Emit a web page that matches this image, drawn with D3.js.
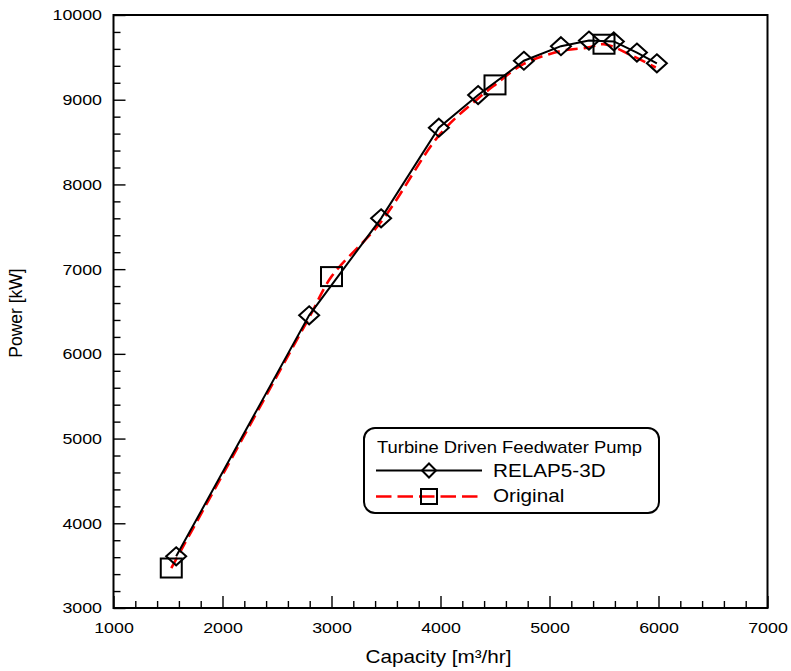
<!DOCTYPE html>
<html>
<head>
<meta charset="utf-8">
<script src="https://cdn.jsdelivr.net/npm/d3@7"></script>
<style>
  html, body { margin: 0; padding: 0; background: #fff; }
  svg text { font-family: "Liberation Sans", Arial, Helvetica, sans-serif; fill: #000; }
  /* wide lettering, as in the original plotting package */
  .wide-c { transform-box: fill-box; transform-origin: center; transform: scaleX(1.15); }
  .wide-l { transform-box: fill-box; transform-origin: left center; transform: scaleX(1.15); }
  .wide-r { transform-box: fill-box; transform-origin: right center; transform: scaleX(1.15); }
</style>
</head>
<body>
<svg id="chart" width="791" height="671"></svg>
<script>
// RELAP5-3D pump curve (diamonds, solid black)
const relapCapacity = [1575, 2795, 3455, 3985, 4345, 4765, 5105, 5362, 5590, 5802, 5985];
const relapPower    = [3610, 6455, 7600, 8670, 9055, 9460, 9632, 9698, 9688, 9556, 9430];

// Original pump curve (red dashed); squares mark selected points
const origCapacity = [1530, 2000, 2500, 2800, 3000, 3450, 4000, 4350, 4500, 4760, 5110, 5350, 5500, 5750, 5975];
const origPower    = [3472, 4570, 5740, 6440, 6912, 7550, 8600, 9020, 9175, 9420, 9576, 9615, 9655, 9525, 9380];
const origMarkerIdx = [0, 4, 8, 12];

// Axes
const xMajorTicks = [1000, 2000, 3000, 4000, 5000, 6000, 7000];
const yMajorTicks = [3000, 4000, 5000, 6000, 7000, 8000, 9000, 10000];
const xMinorTicks = d3.range(1000, 7001, 200).filter(v => v % 1000 !== 0);
const yMinorTicks = d3.range(3000, 10001, 200).filter(v => v % 1000 !== 0);

const xTitle = "Capacity [m³/hr]";
const yTitle = "Power [kW]";
const legendTitle = "Turbine Driven Feedwater Pump";
const seriesNames = ["RELAP5-3D", "Original"];

const svg = d3.select("#chart");
const plot = { left: 113.5, right: 767.5, top: 15, bottom: 608 };

const x = d3.scaleLinear().domain([1000, 7000]).range([plot.left, plot.right]);
const y = d3.scaleLinear().domain([3000, 10000]).range([plot.bottom, plot.top]);

// minor ticks
svg.append("g")
  .attr("transform", `translate(0,${plot.bottom})`)
  .call(d3.axisBottom(x).tickValues(xMinorTicks).tickSize(-7).tickSizeOuter(0).tickFormat(""))
  .call(g => g.select(".domain").remove())
  .call(g => g.selectAll("line").attr("stroke-width", 1.4));
svg.append("g")
  .attr("transform", `translate(${plot.left},0)`)
  .call(d3.axisLeft(y).tickValues(yMinorTicks).tickSize(-7).tickSizeOuter(0).tickFormat(""))
  .call(g => g.select(".domain").remove())
  .call(g => g.selectAll("line").attr("stroke-width", 1.4));

// major ticks + labels
svg.append("g")
  .attr("transform", `translate(0,${plot.bottom})`)
  .call(d3.axisBottom(x).tickValues(xMajorTicks).tickSize(-12).tickSizeOuter(0).tickPadding(13.5).tickFormat(d3.format("d")))
  .call(g => g.select(".domain").remove())
  .call(g => g.selectAll("line").attr("stroke-width", 1.4))
  .call(g => g.selectAll("text").attr("font-size", 15.5).attr("class", "wide-c")
                 .style("font-family", '"Liberation Sans", Arial, sans-serif'));
svg.append("g")
  .attr("transform", `translate(${plot.left},0)`)
  .call(d3.axisLeft(y).tickValues(yMajorTicks).tickSize(-12).tickSizeOuter(0).tickPadding(11.5).tickFormat(d3.format("d")))
  .call(g => g.select(".domain").remove())
  .call(g => g.selectAll("line").attr("stroke-width", 1.4))
  .call(g => g.selectAll("text").attr("font-size", 15.5).attr("class", "wide-r")
                 .style("font-family", '"Liberation Sans", Arial, sans-serif'));

// frame
svg.append("rect")
  .attr("x", plot.left).attr("y", plot.top)
  .attr("width", plot.right - plot.left).attr("height", plot.bottom - plot.top)
  .attr("fill", "none").attr("stroke", "#000").attr("stroke-width", 2);

// axis titles
svg.append("text")
  .attr("class", "wide-c")
  .attr("x", (plot.left + plot.right) / 2 - 2).attr("y", 663)
  .attr("text-anchor", "middle").attr("font-size", 18)
  .text(xTitle);
svg.append("text")
  .attr("transform", "translate(22,313) rotate(-90)")
  .attr("text-anchor", "middle").attr("font-size", 17.5)
  .text(yTitle);

// curves
const origPts = origCapacity.map((c, i) => [c, origPower[i]]);
const relapPts = relapCapacity.map((c, i) => [c, relapPower[i]]);

svg.append("path")
  .datum(origPts)
  .attr("fill", "none").attr("stroke", "#ff0000").attr("stroke-width", 2.6)
  .attr("stroke-dasharray", "12,6")
  .attr("d", d3.line().x(d => x(d[0])).y(d => y(d[1])).curve(d3.curveCatmullRom.alpha(0.5)));

svg.append("path")
  .datum(relapPts)
  .attr("fill", "none").attr("stroke", "#000").attr("stroke-width", 2)
  .attr("d", d3.line().x(d => x(d[0])).y(d => y(d[1])));

// markers
function diamond(g, cx, cy, hw, hh) {
  g.append("path")
    .attr("d", `M${cx},${cy - hh}L${cx + hw},${cy}L${cx},${cy + hh}L${cx - hw},${cy}Z`)
    .attr("fill", "none").attr("stroke", "#000").attr("stroke-width", 2);
}
function square(g, cx, cy, hw, hh) {
  g.append("rect")
    .attr("x", cx - hw).attr("y", cy - hh).attr("width", 2 * hw).attr("height", 2 * hh)
    .attr("fill", "none").attr("stroke", "#000").attr("stroke-width", 2);
}

const marks = svg.append("g");
origMarkerIdx.forEach(i => square(marks, x(origPts[i][0]), y(origPts[i][1]), 10.5, 9.5));
relapPts.forEach(d => diamond(marks, x(d[0]), y(d[1]), 10, 9));

// legend
const lg = svg.append("g");
lg.append("rect")
  .attr("x", 364).attr("y", 428).attr("width", 295).attr("height", 85)
  .attr("rx", 11).attr("ry", 11)
  .attr("fill", "#fff").attr("stroke", "#000").attr("stroke-width", 2);
lg.append("text")
  .attr("class", "wide-l")
  .attr("x", 377).attr("y", 453).attr("font-size", 16)
  .text(legendTitle);
lg.append("line")
  .attr("x1", 376).attr("x2", 482).attr("y1", 470.5).attr("y2", 470.5)
  .attr("stroke", "#000").attr("stroke-width", 2);
diamond(lg, 429, 470.5, 7, 7);
lg.append("text")
  .attr("class", "wide-l")
  .attr("x", 493).attr("y", 477.5).attr("font-size", 18)
  .text(seriesNames[0]);
lg.append("line")
  .attr("x1", 376).attr("x2", 482).attr("y1", 496.5).attr("y2", 496.5)
  .attr("stroke", "#ff0000").attr("stroke-width", 2.6).attr("stroke-dasharray", "15.5,6");
square(lg, 429, 496.5, 8, 7.5);
lg.append("text")
  .attr("class", "wide-l")
  .attr("x", 493).attr("y", 502).attr("font-size", 18)
  .text(seriesNames[1]);
</script>
</body>
</html>
